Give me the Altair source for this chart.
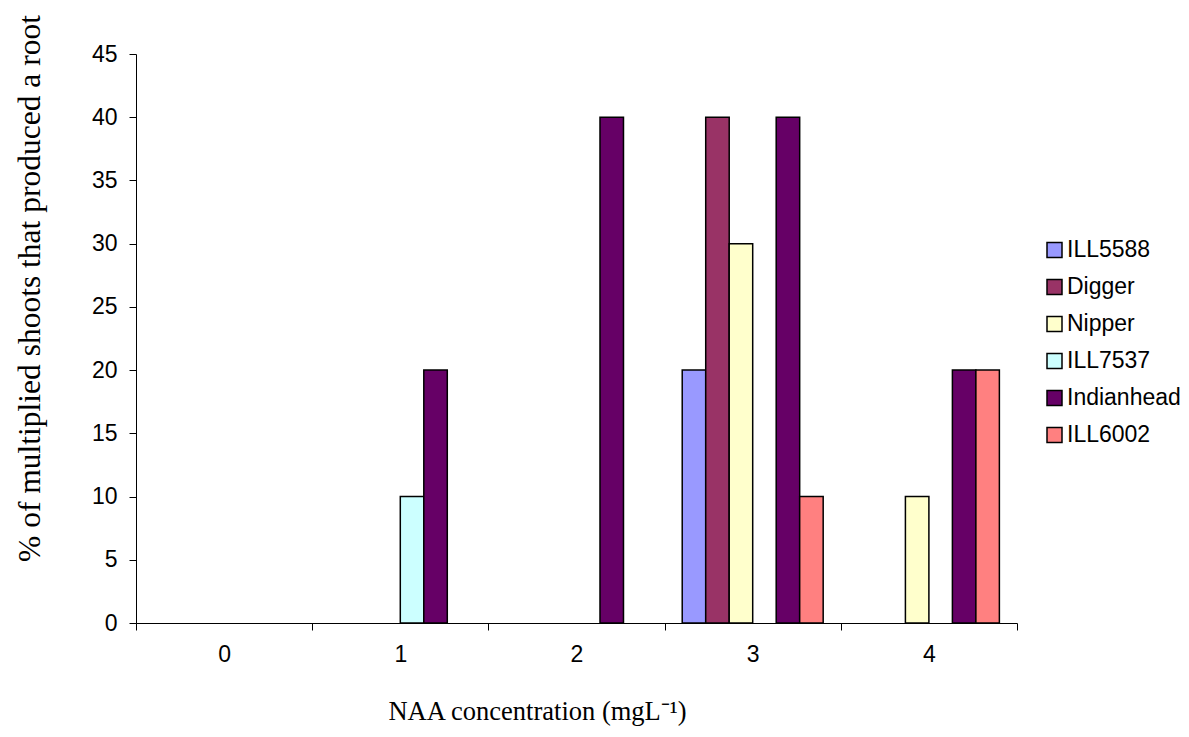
import altair as alt
import pandas as pd

categories = ["0", "1", "2", "3", "4"]
series = ["ILL5588", "Digger", "Nipper", "ILL7537", "Indianhead", "ILL6002"]
colors = ["#9999FF", "#993366", "#FFFFCC", "#CCFFFF", "#660066", "#FF8080"]

ILL5588 = [0, 0, 0, 20, 0]
Digger = [0, 0, 0, 40, 0]
Nipper = [0, 0, 0, 30, 10]
ILL7537 = [0, 10, 0, 0, 0]
Indianhead = [0, 20, 40, 40, 20]
ILL6002 = [0, 0, 0, 10, 20]

values = {
    "ILL5588": ILL5588,
    "Digger": Digger,
    "Nipper": Nipper,
    "ILL7537": ILL7537,
    "Indianhead": Indianhead,
    "ILL6002": ILL6002,
}

rows = []
for s in series:
    for c, v in zip(categories, values[s]):
        rows.append({"conc": c, "cultivar": s, "pct": v})
df = pd.DataFrame(rows)

W, H = 881, 569

chart = alt.Chart(df).transform_filter(
    alt.datum.pct > 0
).mark_bar(stroke="black", strokeWidth=1.5).encode(
    x=alt.X(
        "conc:N",
        sort=categories,
        scale=alt.Scale(domain=categories, paddingInner=0, paddingOuter=0),
        axis=alt.Axis(
            title="NAA concentration (mgL⁻¹)",
            labelAngle=0,
            grid=False,
            tickBand="extent",
            tickSize=7,
            labelPadding=13,
            labelFont="Liberation Sans",
            labelFontSize=23,
            labelColor="black",
            titleFont="Liberation Serif",
            titleFontSize=26.5,
            titleFontWeight="normal",
            titleColor="black",
            titleX=401,
            titleY=88,
            titleBaseline="middle",
            titleAlign="center",
            domainColor="black",
            tickColor="black",
        ),
    ),
    xOffset=alt.XOffset(
        "cultivar:N",
        sort=series,
        scale=alt.Scale(domain=series, paddingInner=0, paddingOuter=0.75),
    ),
    y=alt.Y(
        "pct:Q",
        scale=alt.Scale(domain=[0, 45], nice=False),
        axis=alt.Axis(
            title="% of multiplied shoots that produced a root",
            values=list(range(0, 50, 5)),
            grid=False,
            tickSize=7,
            labelPadding=12,
            labelFont="Liberation Sans",
            labelFontSize=23,
            labelColor="black",
            titleFont="Liberation Serif",
            titleFontSize=31.5,
            titleFontWeight="normal",
            titleColor="black",
            titleAngle=-90,
            titleX=-106,
            titleY=234,
            titleBaseline="middle",
            titleAlign="center",
            domainColor="black",
            tickColor="black",
        ),
    ),
    color=alt.Color(
        "cultivar:N",
        sort=series,
        scale=alt.Scale(domain=series, range=colors),
        legend=alt.Legend(
            title=None,
            orient="none",
            legendX=907,
            legendY=184.5,
            symbolType="square",
            symbolSize=225,
            symbolStrokeColor="black",
            symbolStrokeWidth=1.5,
            symbolOpacity=1,
            labelFont="Liberation Sans",
            labelFontSize=23,
            labelColor="black",
            labelOffset=1,
            rowPadding=13,
        ),
    ),
).properties(
    width=W,
    height=H,
    background="white",
    autosize=alt.AutoSizeParams(type="none"),
    padding={"left": 136, "top": 54, "right": 172, "bottom": 114},
).configure_view(stroke=None, strokeWidth=0).configure_axis(grid=False)

chart.save("out.html", embed_options={"renderer": "svg", "actions": False})
